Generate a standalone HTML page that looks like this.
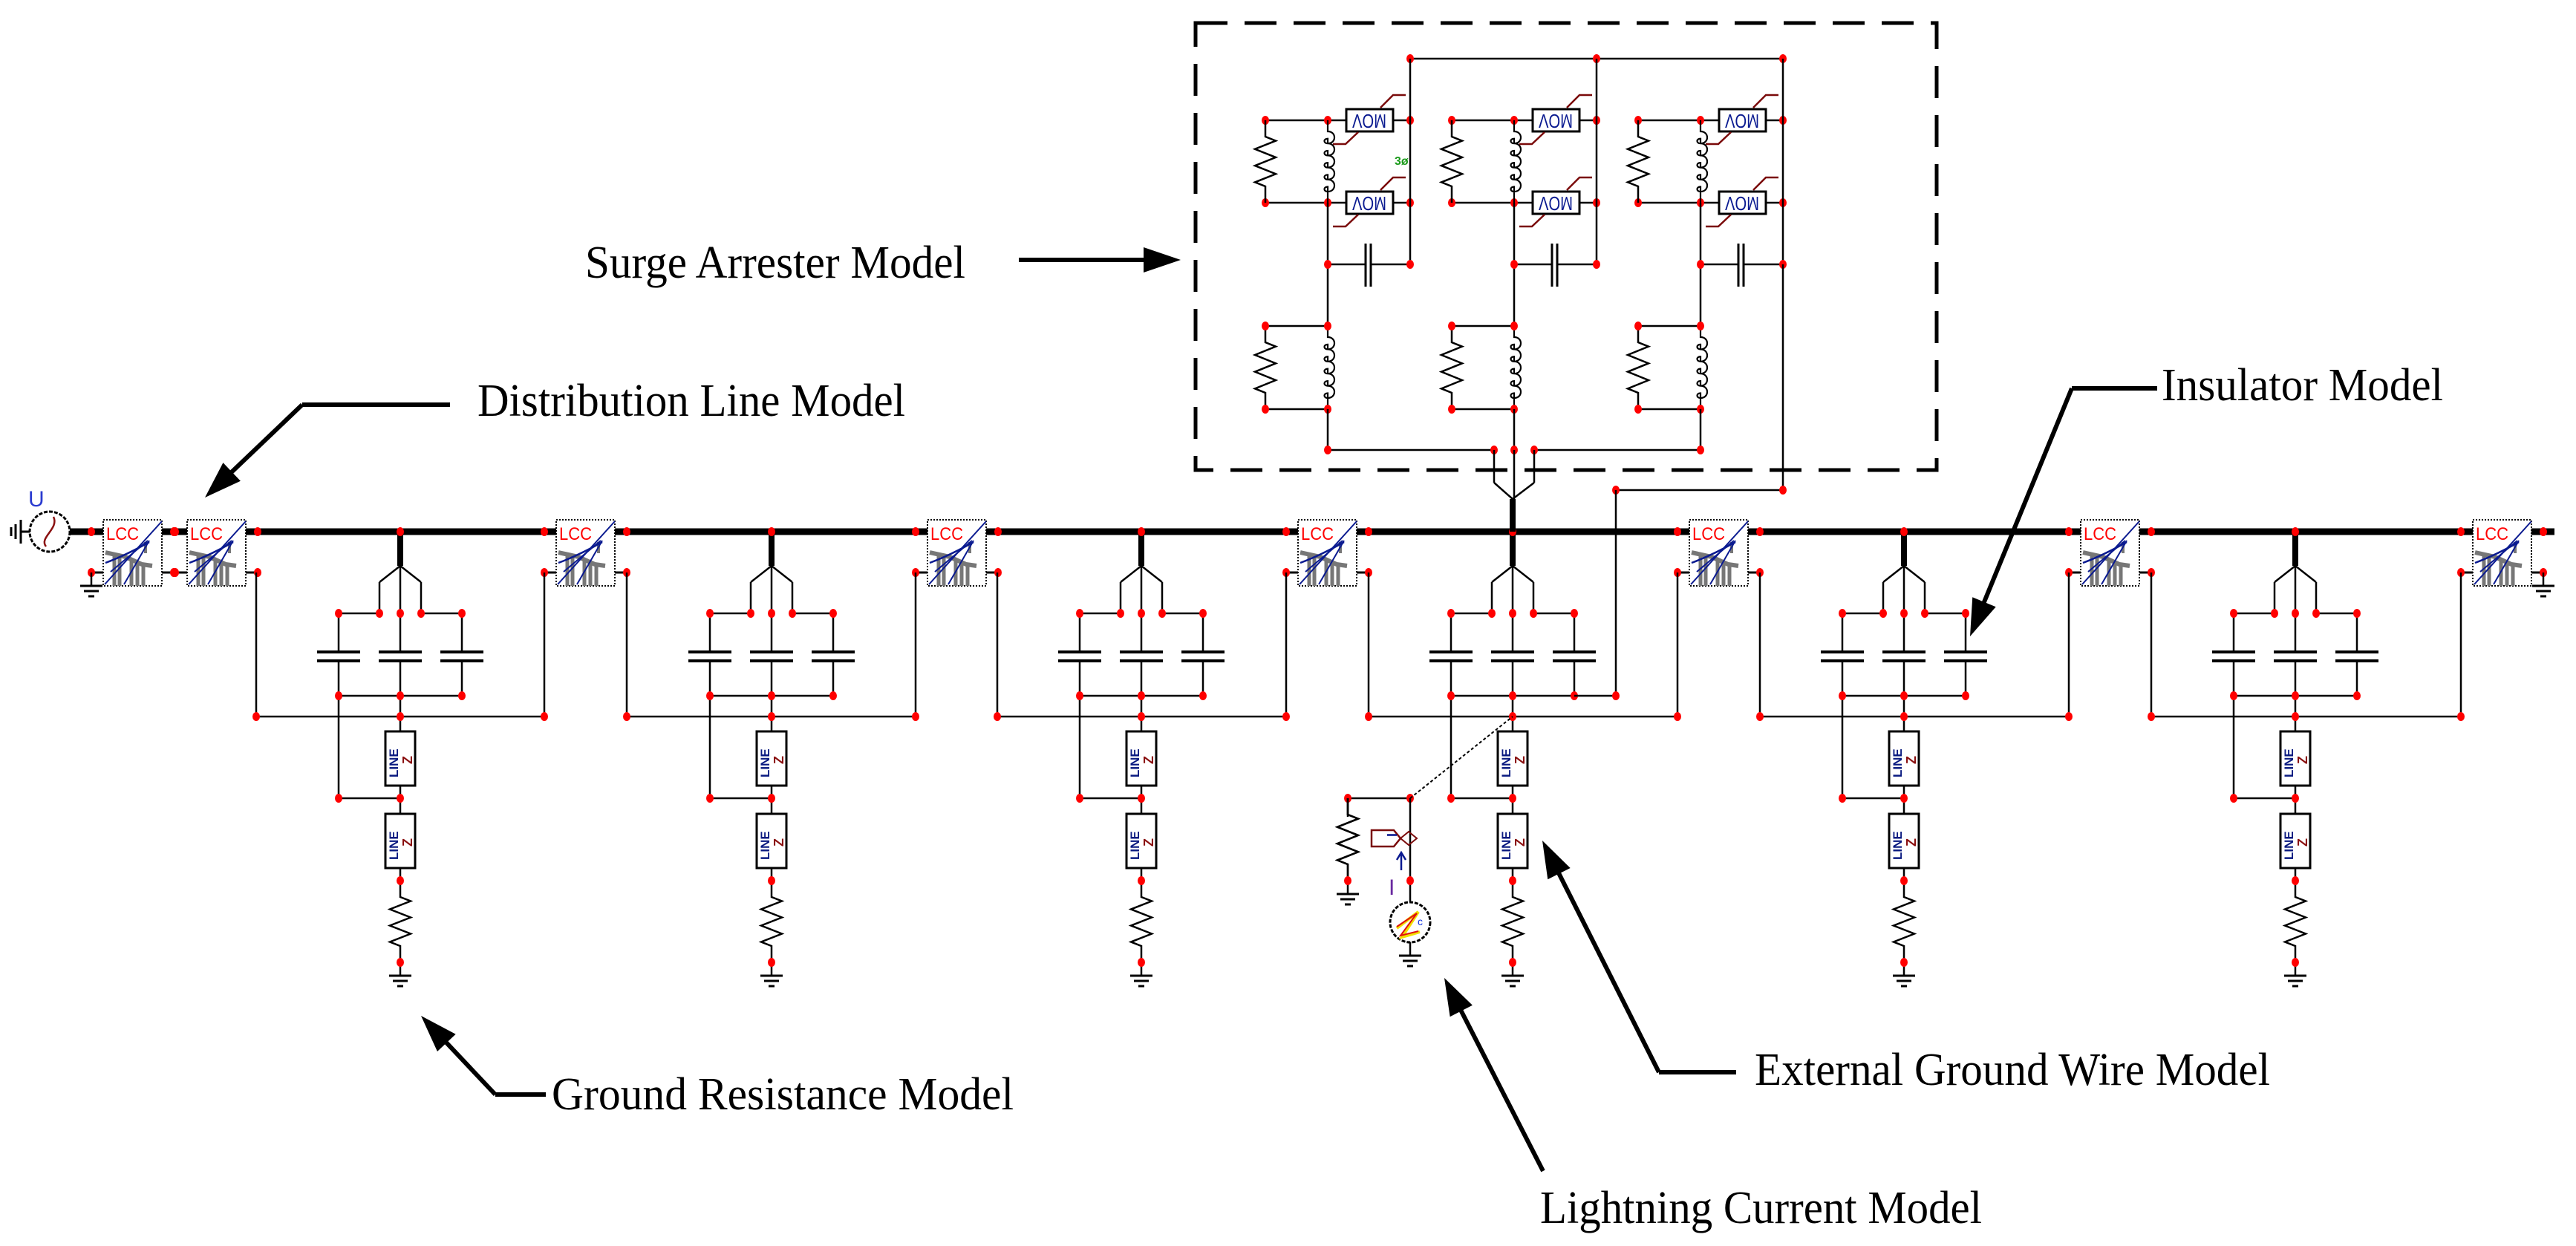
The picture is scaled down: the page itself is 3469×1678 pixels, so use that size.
<!DOCTYPE html>
<html><head><meta charset="utf-8"><style>
html,body{margin:0;padding:0;background:#fff;}
svg{display:block;}
.lbl{font-family:"Liberation Serif",serif;font-size:62px;fill:#000;}
</style></head><body>
<svg id="s" xmlns="http://www.w3.org/2000/svg" width="3469" height="1678" viewBox="0 0 3469 1678">
<rect width="3469" height="1678" fill="#fff"/>
<g id="c"></g>
<text class="lbl" x="788" y="374" textLength="512" lengthAdjust="spacingAndGlyphs">Surge Arrester Model</text>
<text class="lbl" x="643" y="560" textLength="576" lengthAdjust="spacingAndGlyphs">Distribution Line Model</text>
<text class="lbl" x="2911" y="539" textLength="379" lengthAdjust="spacingAndGlyphs">Insulator Model</text>
<text class="lbl" x="743" y="1494" textLength="622" lengthAdjust="spacingAndGlyphs">Ground Resistance Model</text>
<text class="lbl" x="2363" y="1461" textLength="694" lengthAdjust="spacingAndGlyphs">External Ground Wire Model</text>
<text class="lbl" x="2074" y="1647" textLength="595" lengthAdjust="spacingAndGlyphs">Lightning Current Model</text>
<text x="38" y="682" font-family="Liberation Sans,sans-serif" font-size="30" fill="#2a3bd0">U</text>
<text x="1870" y="1205" font-family="Liberation Sans,sans-serif" font-size="30" fill="#6a2aa0">I</text>
<text x="1878" y="222" font-family="Liberation Sans,sans-serif" font-size="16" fill="#1a9a1a" font-weight="bold">3ø</text>
</svg>
<script>
var o=[];
function L(a,b,c,d,w,col,da){o.push('<line x1="'+a+'" y1="'+b+'" x2="'+c+'" y2="'+d+'" stroke="'+(col||'#000')+'" stroke-width="'+(w||2.5)+'"'+(da?' stroke-dasharray="'+da+'"':'')+'/>');}
function P(d,w,col,fill){o.push('<path d="'+d+'" stroke="'+(col||'#000')+'" stroke-width="'+(w||2.5)+'" fill="'+(fill||'none')+'"/>');}
function D(x,y){o.push('<ellipse cx="'+x+'" cy="'+y+'" rx="5" ry="6" fill="#f00"/>');}
function G(x,y){L(x,y,x,y+18,2.5);L(x-15,y+18,x+15,y+18,3);L(x-10,y+25,x+10,y+25,3);L(x-4,y+32,x+4,y+32,3);}
function R(x,y1,y2){var a=y1+22,b=y2-22,n=6,h=(b-a)/n,d='M'+x+' '+y1+' L'+x+' '+a;for(var i=0;i<n;i++){d+=' L'+(x+(i%2?-14:14))+' '+(a+h*(i+0.5));}d+=' L'+x+' '+b+' L'+x+' '+y2;P(d,2.5);}
function Ind(x,y1,y2){var a=y1+15,b=y2-15,n=5,h=(b-a)/n,d='M'+x+' '+y1+' L'+x+' '+a;for(var i=0;i<n;i++){d+=' C'+(x+12)+' '+(a+h*i)+' '+(x+12)+' '+(a+h*(i+1))+' '+x+' '+(a+h*(i+1))+' C'+(x-6)+' '+(a+h*(i+1))+' '+(x-6)+' '+(a+h*(i+0.6))+' '+x+' '+(a+h*(i+0.6))+' L'+x+' '+(a+h*(i+1));}d+=' L'+x+' '+y2;P(d,2.2);}
function LINE(T,y){o.push('<rect x="'+(T-20)+'" y="'+y+'" width="40" height="73" fill="#fff" stroke="#000" stroke-width="3"/>');
o.push('<text transform="translate('+(T-3)+','+(y+62)+') rotate(-90)" font-family="Liberation Sans,sans-serif" font-weight="bold" font-size="17" fill="#0a1a80">LINE</text>');
o.push('<text transform="translate('+(T+16)+','+(y+44)+') rotate(-90)" font-family="Liberation Sans,sans-serif" font-weight="bold" font-size="18" fill="#8a1010">Z</text>');}
function MOV(x,yc){var y=yc-15;o.push('<rect x="'+x+'" y="'+y+'" width="63" height="30" fill="#fff" stroke="#000" stroke-width="3"/>');
o.push('<text transform="translate('+(x+54)+','+(y+7)+') rotate(180)" font-family="Liberation Sans,sans-serif" font-size="26" fill="#0a1a90" textLength="46" lengthAdjust="spacingAndGlyphs">MOV</text>');
P('M'+(x+46)+' '+(y-2)+' L'+(x+63)+' '+(y-19)+' L'+(x+80)+' '+(y-19),2.5,'#7a0a0a');
P('M'+(x+16)+' '+(y+31)+' L'+(x-1)+' '+(y+47)+' L'+(x-18)+' '+(y+47),2.5,'#7a0a0a');}
function LCC(bx){o.push('<rect x="'+bx+'" y="700" width="79" height="89" fill="#fff" stroke="#000" stroke-width="2" stroke-dasharray="2,2"/>');
o.push('<text x="'+(bx+4)+'" y="727" font-family="Liberation Sans,sans-serif" font-size="24" fill="#f00" textLength="44" lengthAdjust="spacingAndGlyphs">LCC</text>');
var g='#777';P('M'+(bx+3)+' 744 L'+(bx+30)+' 750 L'+(bx+52)+' 760 L'+(bx+66)+' 762',6,g);
L(bx+15,745,bx+15,789,5,g);L(bx+22,748,bx+22,789,5,g);L(bx+38,755,bx+38,789,5,g);L(bx+46,760,bx+46,789,5,g);L(bx+54,760,bx+54,789,5,g);
L(bx+57,730,bx+57,745,4,g);
L(bx+2,787,bx+79,702,2,'#0a1a90');L(bx+28,787,bx+62,728,2,'#0a1a90');L(bx+10,770,bx+60,728,2,'#0a1a90');
P('M'+(bx+3)+' 758 Q'+(bx+30)+' 748 '+(bx+62)+' 730',2.5,'#0a1a90');
L(bx-16,771,bx,771,3);L(bx+79,771,bx+95,771,3);
D(bx-16,716);D(bx+95,716);D(bx-16,771);D(bx+95,771);}
var boxes=[139,252,749,1249,1748,2275,2802,3330];
var segs=[[94,139],[218,252],[331,749],[828,1249],[1328,1748],[1827,2275],[2354,2802],[2881,3330],[3409,3440]];
segs.forEach(function(s){L(s[0],716,s[1],716,9);});
boxes.forEach(LCC);
// source
o.push('<circle cx="67" cy="716" r="27" fill="#fff" stroke="#000" stroke-width="3" stroke-dasharray="5,2"/>');
P('M62 736 C52 724 80 712 72 696',2.5,'#8a1010');
L(40,716,28,716,3);L(28,700,28,732,3);L(21,706,21,726,3);L(15,710,15,722,3);
G(123,771);G(3425,771);
// towers
function tower(T,l,r){
L(T,716,T,762,8);
L(T,762,T-28,784);L(T-28,784,T-28,826);L(T,762,T+28,784);L(T+28,784,T+28,826);L(T,762,T,878);
L(T-83,826,T-28,826);L(T+28,826,T+83,826);
[T-83,T+83].forEach(function(x){L(x,826,x,878);});
[T-83,T,T+83].forEach(function(x){L(x-29,878,x+29,878,4);L(x-29,890,x+29,890,4);L(x,890,x,937);});
L(T-83,937,T+83,937);L(T,937,T,985);
L(l,771,l,965);L(r,771,r,965);L(l,965,r,965);
L(T,1058,T,1096);L(T,1169,T,1186);LINE(T,985);LINE(T,1096);
R(T,1186,1296);G(T,1296);
L(T-83,937,T-83,1075);L(T-83,1075,T,1075);
[T-83,T-28,T,T+28,T+83].forEach(function(x){D(x,826);});
[T-83,T,T+83].forEach(function(x){D(x,937);});
D(l,965);D(T,965);D(r,965);D(T-83,1075);D(T,1075);D(T,1186);D(T,1296);D(T,716);
}
[[345,733,539],[844,1233,1039],[1343,1732,1537],[1843,2259,2037],[2370,2786,2564],[2897,3314,3091]].forEach(function(a){tower(a[2],a[0],a[1]);});
// surge arrester box
o.push('<rect x="1610" y="31" width="998" height="602" fill="none" stroke="#000" stroke-width="5" stroke-dasharray="43,23"/>');
L(1899,79,2401,79);D(1899,79);D(2150,79);D(2401,79);
for(var p=0;p<3;p++){var dx=p*251,Rx=1704+dx,Lx=1788+dx,Rv=1899+dx,Mx=1813+dx;
[162,273].forEach(function(y){L(Rx,y,Mx,y);L(Mx+63,y,Rv,y);MOV(Mx,y);D(Rx,y);D(Lx,y);D(Rv,y);});
R(Rx,162,273);Ind(Lx,162,273);
L(Rv,79,Rv,356);
L(Lx,273,Lx,439);L(Lx,356,Rx+135,356);L(1846+dx,356,Rv,356);
L(1839+dx,328,1839+dx,386,3);L(1846+dx,328,1846+dx,386,3);
D(Lx,356);D(Rv,356);
L(Rx,439,Lx,439);L(Rx,551,Lx,551);R(Rx,439,551);Ind(Lx,439,551);
D(Rx,439);D(Lx,439);D(Rx,551);D(Lx,551);
L(Lx,551,Lx,606);}
L(1788,606,2012,606);L(2066,606,2290,606);
[1788,2012,2039,2066,2290].forEach(function(x){D(x,606);});
L(2012,606,2012,650);L(2066,606,2066,650);L(2039,606,2039,672);
L(2012,650,2037,672);L(2066,650,2037,672);L(2037,672,2037,716,8);
L(2401,356,2401,660);L(2176,660,2401,660);D(2176,660);D(2401,660);
L(2176,660,2176,937);L(2120,937,2176,937);D(2176,937);
// lightning
L(1815,1075,1899,1075);D(1815,1075);D(1899,1075);
L(1899,1075,2037,965,2,'#000','4,3');
R(1815,1075,1186);R(1815,1075,1186);
L(1815,1075,1815,1100);
G(1815,1186);D(1815,1186);
L(1899,1075,1899,1215);D(1899,1186);
o.push('<circle cx="1899" cy="1242" r="27" fill="#fff" stroke="#000" stroke-width="3" stroke-dasharray="5,2"/>');
P('M1881 1250 L1910 1228 L1888 1262 L1912 1255',4,'#f2e000');
P('M1881 1248 L1908 1230 L1886 1260 L1910 1254',2,'#e01010');
o.push('<text x="1909" y="1246" font-family="Liberation Sans,sans-serif" font-size="14" fill="#1030e0">c</text>');
G(1899,1269);
P('M1847 1118 L1877 1118 L1886 1129 L1877 1140 L1847 1140 Z',2.5,'#7a0a0a','#fff');
o.push('<text transform="translate(1868,1122) rotate(90)" font-family="Liberation Sans,sans-serif" font-weight="bold" font-size="18" fill="#0a1a90">I</text>');
P('M1886 1129 L1897 1120 L1908 1129 L1897 1138 Z',2,'#7a0a0a');
L(1887,1172,1887,1150,2.5,'#0a1a90');P('M1881 1158 L1887 1148 L1893 1158',2.5,'#0a1a90');
// annotation arrows
function arrow(pts,tip){var d='M'+pts.map(function(q){return q.join(' ');}).join(' L');P(d,6);
var a=pts[pts.length-1],b=tip,vx=b[0]-a[0],vy=b[1]-a[1],len=Math.sqrt(vx*vx+vy*vy),ux=vx/len,uy=vy/len,hl=50,hw=17;
var bx=b[0]-ux*hl,by=b[1]-uy*hl;L(a[0],a[1],bx+ux*5,by+uy*5,6);
o.push('<polygon points="'+b[0]+','+b[1]+' '+(bx-uy*hw)+','+(by+ux*hw)+' '+(bx+uy*hw)+','+(by-ux*hw)+'" fill="#000"/>');}
arrow([[1372,350],[1372,350]],[1590,350]);
arrow([[606,545],[407,545]],[276,670]);
arrow([[2905,523],[2790,523]],[2653,857]);
arrow([[735,1474],[667,1474]],[567,1368]);
arrow([[2338,1444],[2234,1444]],[2077,1132]);
arrow([[2078,1577],[2078,1577]],[1945,1317]);
document.getElementById('c').innerHTML=o.join('');
</script>
</body></html>
